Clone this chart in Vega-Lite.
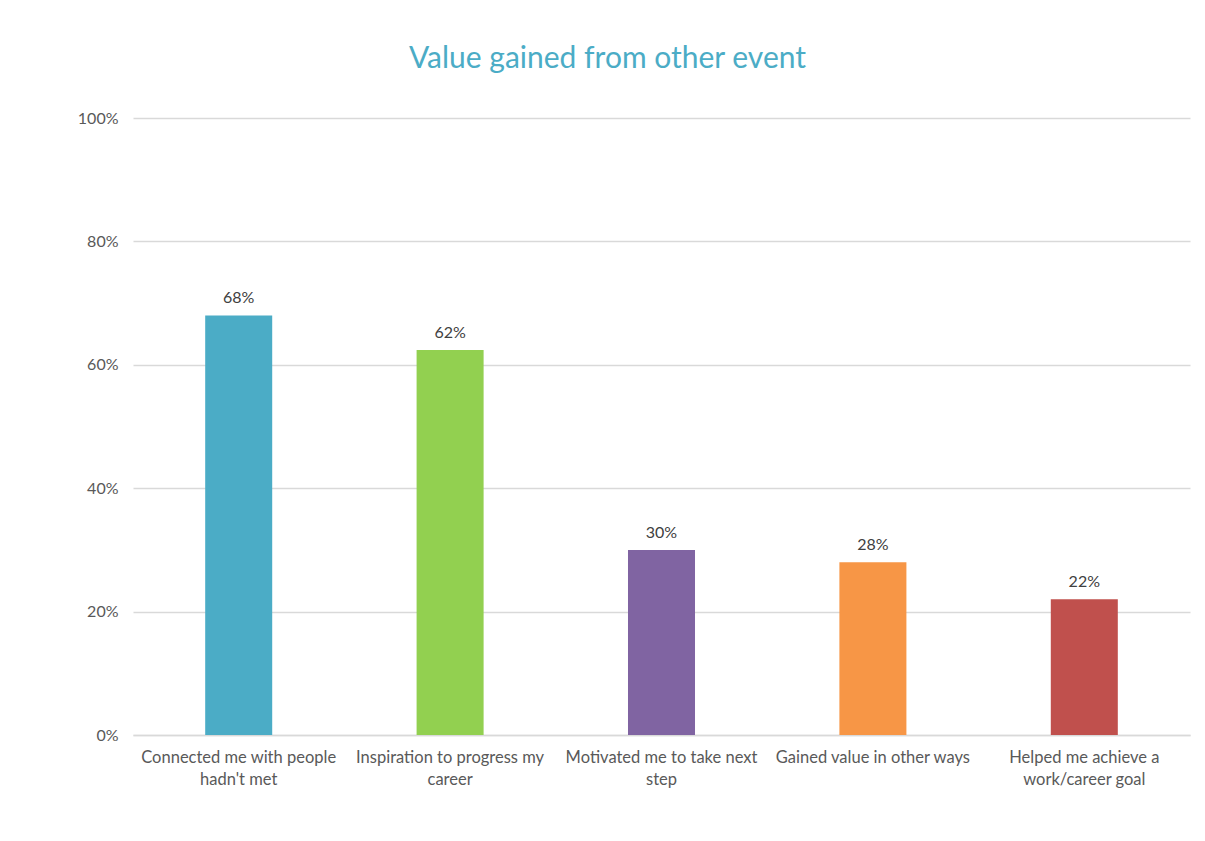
{
  "$schema": "https://vega.github.io/schema/vega-lite/v6.json",
  "width": 1057,
  "height": 617,
  "autosize": "none",
  "padding": {"left": 133, "top": 118, "right": 15, "bottom": 106},
  "background": "white",
  "title": {
    "text": "Value gained from other event",
    "font": "Lato",
    "fontSize": 30,
    "fontWeight": "normal",
    "color": "#4BACC6",
    "anchor": "middle",
    "dx": -54,
    "offset": 36
  },
  "config": {
    "view": {"stroke": null},
    "font": "Lato"
  },
  "data": {
    "values": [
      {"category": "Connected me with people|hadn't met", "value": 0.68},
      {"category": "Inspiration to progress my|career", "value": 0.624},
      {"category": "Motivated me to take next|step", "value": 0.30},
      {"category": "Gained value in other ways", "value": 0.28},
      {"category": "Helped me achieve a|work/career goal", "value": 0.22}
    ]
  },
  "encoding": {
    "x": {
      "field": "category",
      "type": "nominal",
      "sort": null,
      "scale": {"paddingInner": 0.683, "paddingOuter": 0.3415},
      "axis": {
        "title": null,
        "labelAngle": 0,
        "labelExpr": "split(datum.value, '|')",
        "labelFont": "Lato",
        "labelFontSize": 16.5,
        "labelColor": "#595959",
        "labelLineHeight": 22,
        "labelPadding": 14,
        "ticks": false,
        "domain": true,
        "domainColor": "#d9d9d9",
        "domainWidth": 1.5,
        "labelLimit": 230
      }
    },
    "y": {
      "field": "value",
      "type": "quantitative",
      "scale": {"domain": [0, 1]},
      "axis": {
        "title": null,
        "format": ".0%",
        "values": [0, 0.2, 0.4, 0.6, 0.8, 1],
        "labelFont": "Lato",
        "labelFontSize": 16,
        "labelColor": "#595959",
        "labelPadding": 15,
        "ticks": false,
        "domain": false,
        "gridColor": "#d9d9d9",
        "gridWidth": 1.5
      }
    }
  },
  "layer": [
    {
      "mark": {"type": "bar"},
      "encoding": {
        "color": {
          "field": "category",
          "type": "nominal",
          "sort": null,
          "legend": null,
          "scale": {"range": ["#4BACC6", "#92D050", "#8064A2", "#F79646", "#C0504D"]}
        }
      }
    },
    {
      "mark": {"type": "text", "dy": -17, "fontSize": 16, "color": "#404040", "font": "Lato"},
      "encoding": {
        "text": {"field": "value", "type": "quantitative", "format": ".0%"}
      }
    }
  ]
}
